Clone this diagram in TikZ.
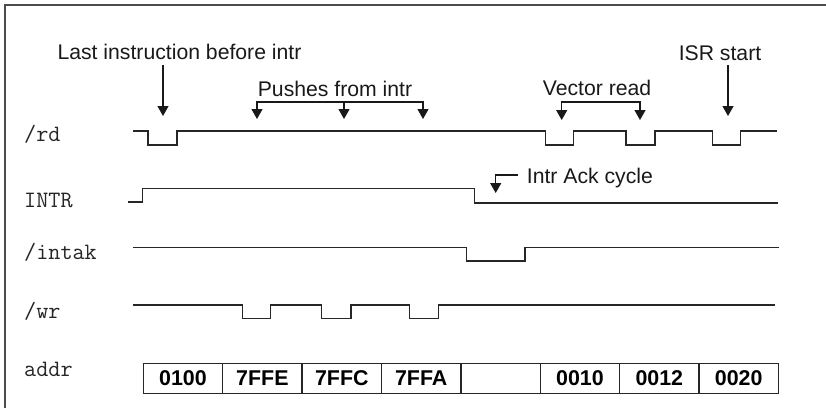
\documentclass[tikz,border=0pt]{standalone}
\usepackage{fontspec}
\setmainfont{Liberation Sans}
\usetikzlibrary{arrows.meta}
\begin{document}
\begin{tikzpicture}[x=1pt,y=-1pt,
  sig/.style={line width=1.25pt, black!85, line join=miter},
  lbl/.style={font=\fontsize{23.5}{26}\ttfamily, anchor=base west, inner sep=0pt, black!85},
  ann/.style={font=\fontsize{21.2}{24}\selectfont, anchor=base, inner sep=0pt, black!90},
  arr/.style={line width=1.25pt, black!90, -{Triangle[width=11pt,length=10pt]}},
  arrb/.style={line width=1.25pt, black!90, {Triangle[width=11pt,length=10pt]}-{Triangle[width=11pt,length=10pt]}},
  cell/.style={draw=black!85, line width=1.25pt, minimum width=79.4pt, minimum height=30pt, inner sep=0pt, font=\fontsize{21.4}{24}\selectfont\bfseries}]
\useasboundingbox (0,0) rectangle (826,408);
\draw[line width=1.5pt, black!70] (5,408) -- (5,5) -- (826,5);

% signal labels
\node[lbl] (lrd) at (24,141.7) {/rd};
\node[lbl] (lintr) at (24,207.3) {INTR};
\node[lbl] (lintak) at (24,259.3) {/intak};
\node[lbl] (lwr) at (24,318.3) {/wr};
\node[lbl] (laddr) at (24,376.7) {addr};

% waveforms
\draw[sig] (133,131) -- (148,131) -- (148,145) -- (177,145) -- (177,131) -- (545.7,131) -- (545.7,145) -- (573.7,145) -- (573.7,131) -- (626,131) -- (626,145) -- (655,145) -- (655,131) -- (712.7,131) -- (712.7,145) -- (740.7,145) -- (740.7,131) -- (777,131);
\draw[sig] (128,202) -- (142.7,202) -- (142.7,188.3) -- (474.7,188.3) -- (474.7,203) -- (778,203);
\draw[sig] (133.3,247.3) -- (466.3,247.3) -- (466.3,261) -- (525,261) -- (525,247.3) -- (779,247.3);
\draw[sig] (133.3,305) -- (242.3,305) -- (242.3,318.7) -- (270.3,318.7) -- (270.3,305) -- (321.7,305) -- (321.7,318.7) -- (351,318.7) -- (351,305) -- (409.7,305) -- (409.7,318.7) -- (438.3,318.7) -- (438.3,305) -- (775,305);

% address cells
\node[cell] (c1) at (183.0,378.3) {0100};
\node[cell] (c2) at (262.4,378.3) {7FFE};
\node[cell] (c3) at (341.8,378.3) {7FFC};
\node[cell] (c4) at (421.2,378.3) {7FFA};
\node[cell] (c5) at (500.5,378.3) {};
\node[cell] (c6) at (579.9,378.3) {0010};
\node[cell] (c7) at (659.3,378.3) {0012};
\node[cell] (c8) at (738.7,378.3) {0020};

% annotations
\node[ann] (tlast) at (179.5,59) {Last instruction before intr};
\node[ann] (tpush) at (335,96.7) {Pushes from intr};
\node[ann] (tvec) at (597,95.7) {Vector read};
\node[ann] (tisr) at (720,60) {ISR start};
\node[ann, anchor=base west] (tack) at (526.7,183.3) {Intr Ack cycle};

\coordinate (la) at (163,65);   \coordinate (lb) at (163,116);
\coordinate (pa1) at (257,119); \coordinate (pb1) at (257,102);
\coordinate (pa2) at (344,119); \coordinate (pb2) at (344,102);
\coordinate (pa3) at (423,119); \coordinate (pb3) at (423,102);
\coordinate (va1) at (561.7,120); \coordinate (vb1) at (561.7,102);
\coordinate (va2) at (640,120); \coordinate (vb2) at (640,102);
\coordinate (ia) at (728,65);   \coordinate (ib) at (728,116);
\coordinate (ka) at (518,175);  \coordinate (kb) at (495.7,175); \coordinate (kc) at (495.7,193);

\draw[arr] (la) -- (lb);
\draw[arrb] (pa1) -- (pb1) -- (pb3) -- (pa3);
\draw[arr] (pb2) -- (pa2);
\draw[arrb] (va1) -- (vb1) -- (vb2) -- (va2);
\draw[arr] (ia) -- (ib);
\draw[arr] (ka) -- (kb) -- (kc);
\end{tikzpicture}
\end{document}
